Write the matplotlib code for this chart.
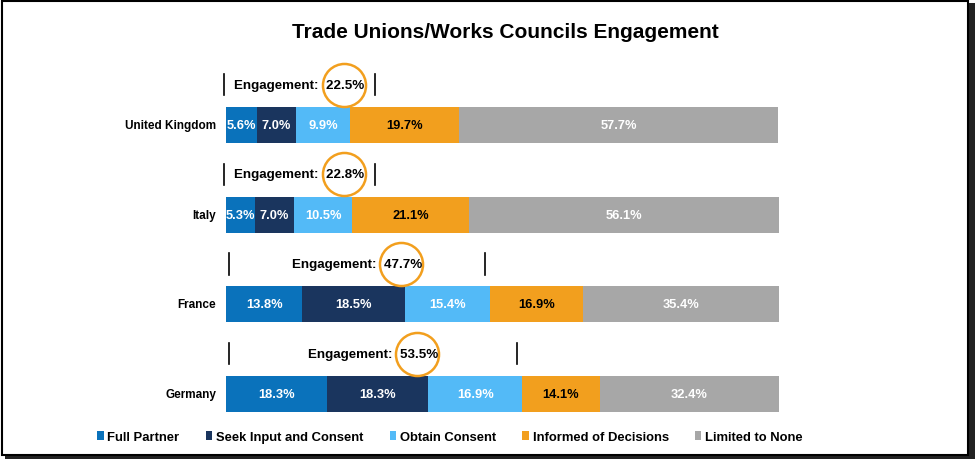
import matplotlib
matplotlib.use("Agg")
import matplotlib.pyplot as plt
from matplotlib.patches import Rectangle, Patch

plt.rcParams['font.family'] = ['Liberation Sans', 'DejaVu Sans']
plt.rcParams['font.weight'] = 'bold'

countries = ["United Kingdom", "Italy", "France", "Germany"]
series_names = ["Full Partner", "Seek Input and Consent", "Obtain Consent",
                "Informed of Decisions", "Limited to None"]
full_partner = [5.6, 5.3, 13.8, 18.3]
seek_input = [7.0, 7.0, 18.5, 18.3]
obtain_consent = [9.9, 10.5, 15.4, 16.9]
informed = [19.7, 21.1, 16.9, 14.1]
limited = [57.7, 56.1, 35.4, 32.4]
engagement = [22.5, 22.8, 47.7, 53.5]

colors = ["#0A72BB", "#1A355E", "#53BAF7", "#F29F1E", "#A7A7A7"]
text_colors = ["white", "white", "white", "black", "white"]

W, H = 975, 460
fig = plt.figure(figsize=(W / 100, H / 100), dpi=100)

# axes placement in pixels
ax_left, ax_right = 226, 779
ax_top, ax_bottom = 40, 420
ax = fig.add_axes([ax_left / W, 1 - ax_bottom / H, (ax_right - ax_left) / W,
                   (ax_bottom - ax_top) / H])
spacing = 89.67
y_top = (ax_top - 126) / spacing
y_bot = (ax_bottom - 126) / spacing
ax.set_xlim(0, 100)
ax.set_ylim(y_bot, y_top)
ax.axis('off')

ypos = list(range(len(countries)))
series = [full_partner, seek_input, obtain_consent, informed, limited]
left = [0.0] * len(countries)
for s, name, c, tc in zip(series, series_names, colors, text_colors):
    ax.barh(ypos, s, left=left, height=0.40, color=c, label=name)
    for y, v, l in zip(ypos, s, left):
        ax.text(l + v / 2, y, f"{v:.1f}%", ha='center', va='center',
                color=tc, fontsize=9.3, fontweight='bold')
    left = [a + b for a, b in zip(left, s)]

for y, name in zip(ypos, countries):
    ax.text(-1.8, y, name, ha='right', va='center', fontsize=8.5,
            fontweight='bold', color='black')

# engagement annotations
fig.canvas.draw()
renderer = fig.canvas.get_renderer()
inv = ax.transData.inverted()
for y, e in zip(ypos, engagement):
    lo = -0.3 if e < 30 else 0.5
    hi = max(e - 0.9, 26.9)
    ya = y - 0.45
    ax.plot([lo, lo], [y - 0.57, y - 0.33], color='black', lw=1.2, clip_on=False)
    ax.plot([hi, hi], [y - 0.57, y - 0.33], color='black', lw=1.2, clip_on=False)
    cx = (lo + hi) / 2
    t = ax.text(cx, ya, f"Engagement:  {e:.1f}%", ha='center', va='center',
                fontsize=9.6, fontweight='bold', color='black')
    p = ax.text(0, 0, f"{e:.1f}%", fontsize=9.6, fontweight='bold', alpha=0)
    bb = t.get_window_extent(renderer)
    pb = p.get_window_extent(renderer)
    p.remove()
    px = bb.x1 - pb.width / 2 - 2
    dx, _ = inv.transform((px, 0))
    ax.plot([dx], [ya], marker='o', ms=31, mfc='none', mec='#F29F1E',
            mew=1.8, clip_on=False)

fig.text(505 / W, 1 - 32 / H, "Trade Unions/Works Councils Engagement",
         ha='center', va='center', fontsize=15, fontweight='bold')

handles = [Patch(facecolor=c, label=n) for c, n in zip(colors, series_names)]
fig.legend(handles=handles, loc='center', bbox_to_anchor=(450 / W, 1 - 438 / H),
           ncol=5, frameon=False, handlelength=0.5,
           handleheight=0.6, handletextpad=0.3, columnspacing=2.0,
           prop={'weight': 'bold', 'size': 9.4})

# border with shadow
fig.patches.append(Rectangle((5 / W, 0), 970 / W, 456 / H, transform=fig.transFigure,
                             facecolor='#222222', edgecolor='none', zorder=-2))
fig.patches.append(Rectangle((2 / W, 4 / H), 966 / W, 454 / H, transform=fig.transFigure,
                             facecolor='white', edgecolor='black', lw=1.5, zorder=-1))

fig.savefig("out.png", dpi=100, facecolor='white')
